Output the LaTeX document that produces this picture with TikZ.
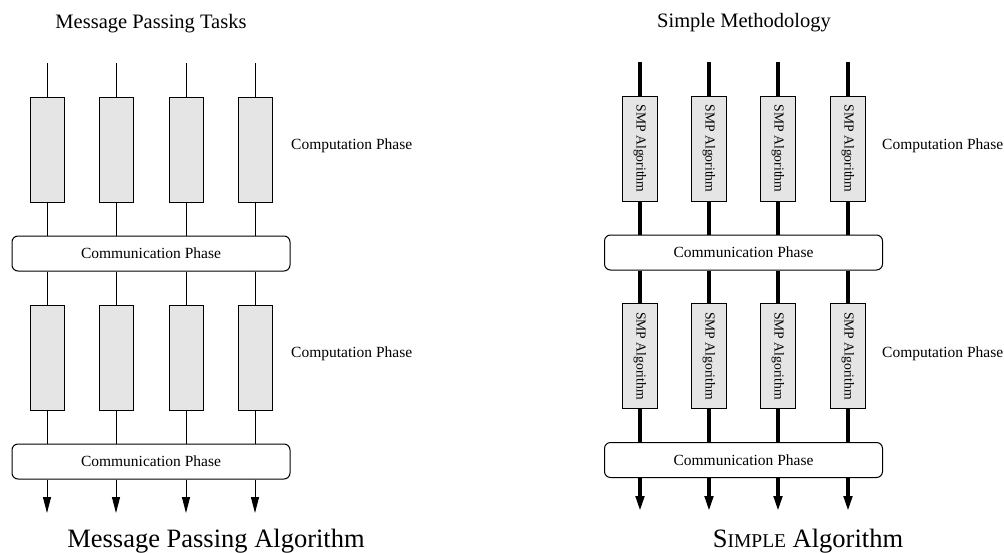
\documentclass[tikz,border=0pt]{standalone}
\usepackage{fontspec}
\setmainfont{Liberation Serif}
\usetikzlibrary{arrows.meta,positioning}

\tikzset{
  task/.style={draw, line width=1pt, fill=black!10, minimum width=34pt,
    minimum height=105pt, inner sep=0pt},
  phase/.style={draw, line width=1pt, rounded corners=6pt, minimum width=278pt,
    minimum height=35pt, inner sep=0pt, font=\fontsize{15.5}{17}\selectfont},
  label/.style={font=\fontsize{15.5}{17}\selectfont, inner sep=0pt},
  smp/.style={font=\fontsize{13.7}{15}\selectfont, rotate=-90, inner sep=0pt},
  thin/.style={line width=1pt},
  thick/.style={line width=4pt},
  tip/.style={-{Triangle[length=16pt 0,width=8pt 0]}},
}

\begin{document}
\begin{tikzpicture}[x=1pt,y=-1pt]
  \useasboundingbox (0,0) rectangle (1004,552);

  % message passing side
  \node[anchor=base, font=\fontsize{20.5}{22}\selectfont] (mpt) at (151,28) {Message Passing Tasks};
  \node[phase] (mc1) at (151,253.5) {Communication Phase};
  \node[phase] (mc2) at (151,461.5) {Communication Phase};
  \foreach \i/\x in {1/47,2/116,3/186,4/255} {
    \node[task] (ma\i) at (\x,149.5) {};
    \node[task] (mb\i) at (\x,357.5) {};
    \coordinate (mtop\i) at (\x,63);
    \coordinate (mend\i) at (\x,513);
    \draw[thin] (mtop\i) -- (ma\i.north);
    \draw[thin] (ma\i.south) -- (ma\i.south |- mc1.north);
    \draw[thin] (ma\i.south |- mc1.south) -- (mb\i.north);
    \draw[thin] (mb\i.south) -- (mb\i.south |- mc2.north);
    \draw[thin,tip] (mb\i.south |- mc2.south) -- (mend\i);
  }
  \node[label, anchor=base west] (mcp1) at (291,149) {Computation Phase};
  \node[label, anchor=base west] (mcp2) at (291,357) {Computation Phase};
  \node[anchor=base, font=\fontsize{26.5}{28}\selectfont] (mpa) at (216,547) {Message Passing Algorithm};

  % simple side
  \node[anchor=base, font=\fontsize{20.5}{22}\selectfont] (sm) at (744,27) {Simple Methodology};
  \node[phase] (sc1) at (743.5,252.5) {Communication Phase};
  \node[phase] (sc2) at (743.5,460) {Communication Phase};
  \foreach \i/\x in {1/640,2/709,3/778,4/848} {
    \coordinate (stop\i) at (\x,62);
    \coordinate (send\i) at (\x,512);
    \draw[thick] (stop\i) -- (stop\i |- sc1.north);
    \draw[thick] (stop\i |- sc1.south) -- (stop\i |- sc2.north);
    \draw[thick,tip] (stop\i |- sc2.south) -- (send\i);
    \node[task, minimum width=35pt] (sa\i) at (\x,148.5) {};
    \node[task, minimum width=35pt] (sb\i) at (\x,356) {};
    \node[smp] at (sa\i) {SMP Algorithm};
    \node[smp] at (sb\i) {SMP Algorithm};
  }
  \node[label, anchor=base west] (scp1) at (882,149) {Computation Phase};
  \node[label, anchor=base west] (scp2) at (882,357) {Computation Phase};
  \node[anchor=base, font=\fontsize{26.5}{28}\selectfont] (salg) at (808,547)
    {S{\fontsize{19.5}{21}\selectfont IMPLE} Algorithm};
\end{tikzpicture}
\end{document}
